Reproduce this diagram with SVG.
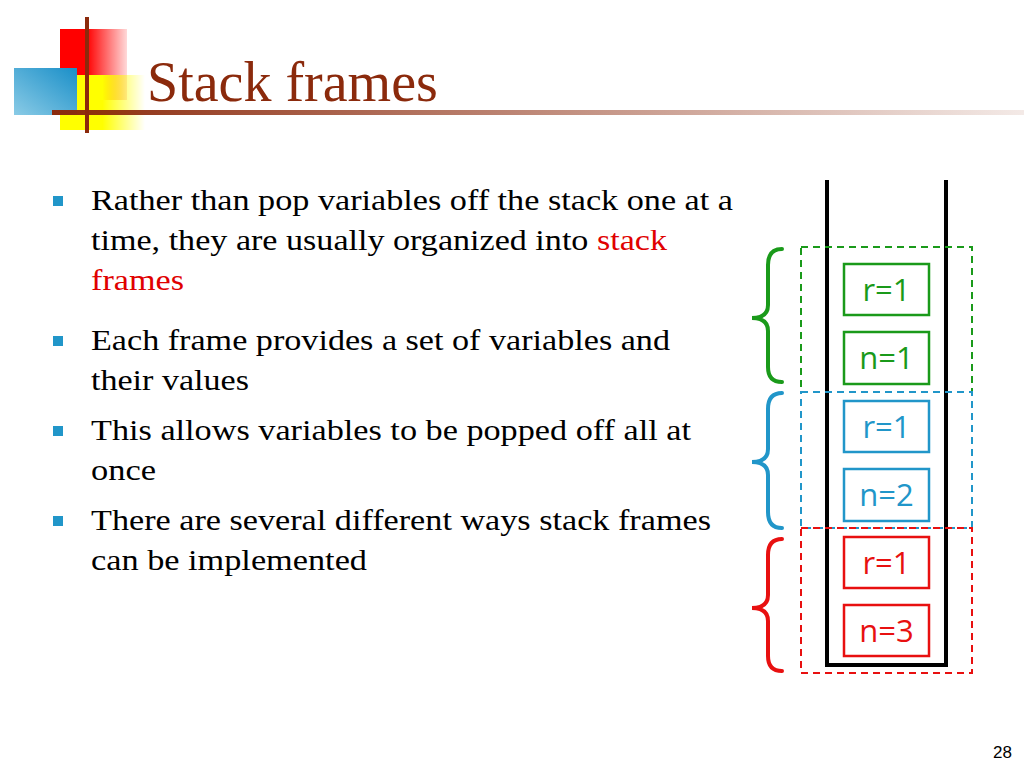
<svg xmlns="http://www.w3.org/2000/svg" width="1024" height="768" viewBox="0 0 1024 768">
<defs>
<linearGradient id="gr" x1="0" x2="1"><stop offset="0.4" stop-color="#ff0000"/><stop offset="1" stop-color="#ff0000" stop-opacity="0.15"/></linearGradient>
<linearGradient id="gb" x1="1" y1="0" x2="0" y2="1"><stop offset="0" stop-color="#1a8fc8"/><stop offset="1" stop-color="#8acbe6"/></linearGradient>
<linearGradient id="gy" x1="0" x2="1"><stop offset="0.5" stop-color="#ffff00"/><stop offset="1" stop-color="#ffff00" stop-opacity="0"/></linearGradient>
<linearGradient id="gl" x1="0" x2="1"><stop offset="0" stop-color="#8b2a0c"/><stop offset="1" stop-color="#8b2a0c" stop-opacity="0.1"/></linearGradient>
<style>
.t{font-family:"Liberation Serif",serif;font-size:30px;fill:#000}
.s{font-family:"Open Sans","DejaVu Sans",sans-serif;font-size:31px;text-anchor:middle}
.b{fill:#2196c9}
.box{fill:#fff;stroke-width:2.5}
.fr{fill:none;stroke-width:2;stroke-dasharray:7 5}
.br{fill:none;stroke-width:4;stroke-linecap:round}
</style>
</defs>
<rect width="1024" height="768" fill="#fff"/>
<g id="logo">
<rect x="60" y="29" width="67" height="71" fill="url(#gr)"/>
<rect x="60" y="75" width="85" height="55" fill="url(#gy)"/>
<rect x="14" y="68" width="63" height="47" fill="url(#gb)"/>
<rect x="52" y="110" width="972" height="5" fill="url(#gl)"/>
<rect x="85" y="17" width="4" height="116" fill="#8b2a0c"/>
</g>
<text x="147" y="101" font-family="Liberation Serif,serif" font-size="56" fill="#8b2a0c">Stack frames</text>
<g id="bullets">
<rect class="b" x="53" y="196" width="10" height="10"/>
<rect class="b" x="53" y="336" width="10" height="10"/>
<rect class="b" x="53" y="426" width="10" height="10"/>
<rect class="b" x="53" y="516" width="10" height="10"/>
<text class="t" x="91" y="210" textLength="642" lengthAdjust="spacingAndGlyphs">Rather than pop variables off the stack one at a</text>
<text class="t" x="91" y="250" textLength="576" lengthAdjust="spacingAndGlyphs">time, they are usually organized into <tspan fill="#e00000">stack</tspan></text>
<text class="t" x="91" y="290" style="fill:#e00000" textLength="93" lengthAdjust="spacingAndGlyphs">frames</text>
<text class="t" x="91" y="350" textLength="579" lengthAdjust="spacingAndGlyphs">Each frame provides a set of variables and</text>
<text class="t" x="91" y="390" textLength="158" lengthAdjust="spacingAndGlyphs">their values</text>
<text class="t" x="91" y="440" textLength="600" lengthAdjust="spacingAndGlyphs">This allows variables to be popped off all at</text>
<text class="t" x="91" y="480" textLength="65" lengthAdjust="spacingAndGlyphs">once</text>
<text class="t" x="91" y="530" textLength="620" lengthAdjust="spacingAndGlyphs">There are several different ways stack frames</text>
<text class="t" x="91" y="570" textLength="276" lengthAdjust="spacingAndGlyphs">can be implemented</text>
</g>
<g id="stack">
<path d="M827 180 V665 H946 V180" fill="none" stroke="#000" stroke-width="4"/>
</g>
<g id="frames">
<rect class="fr" x="801" y="247" width="171" height="145" stroke="#1a9a1a"/>
<rect class="fr" x="801" y="392" width="171" height="136" stroke="#2196c9"/>
<rect class="fr" x="801" y="528" width="171" height="145" stroke="#e81010"/>
</g>
<g id="cells">
<rect class="box" x="844" y="264" width="85" height="51" stroke="#1a9a1a"/><text class="s" x="886.5" y="301" fill="#1a9a1a">r=1</text>
<rect class="box" x="844" y="332" width="85" height="52" stroke="#1a9a1a"/><text class="s" x="886.5" y="369" fill="#1a9a1a">n=1</text>
<rect class="box" x="844" y="401" width="85" height="51" stroke="#2196c9"/><text class="s" x="886.5" y="438" fill="#2196c9">r=1</text>
<rect class="box" x="844" y="469" width="85" height="52" stroke="#2196c9"/><text class="s" x="886.5" y="506" fill="#2196c9">n=2</text>
<rect class="box" x="844" y="537" width="85" height="51" stroke="#e81010"/><text class="s" x="886.5" y="574" fill="#e81010">r=1</text>
<rect class="box" x="844" y="605" width="85" height="51" stroke="#e81010"/><text class="s" x="886.5" y="642" fill="#e81010">n=3</text>
</g>
<g id="braces">
<path class="br" stroke="#1a9a1a" d="M782 249 Q768 249 768 265 V305 Q768 318 752 318 Q768 318 768 331 V367 Q768 382 782 382"/>
<path class="br" stroke="#2196c9" d="M782 393 Q768 393 768 409 V449 Q768 462 752 462 Q768 462 768 475 V512 Q768 528 782 528"/>
<path class="br" stroke="#e81010" d="M782 539 Q768 539 768 555 V595 Q768 608 752 608 Q768 608 768 621 V656 Q768 671 782 671"/>
</g>
<text x="1012" y="758" font-family="Liberation Sans,sans-serif" font-size="17" text-anchor="end">28</text>
</svg>
